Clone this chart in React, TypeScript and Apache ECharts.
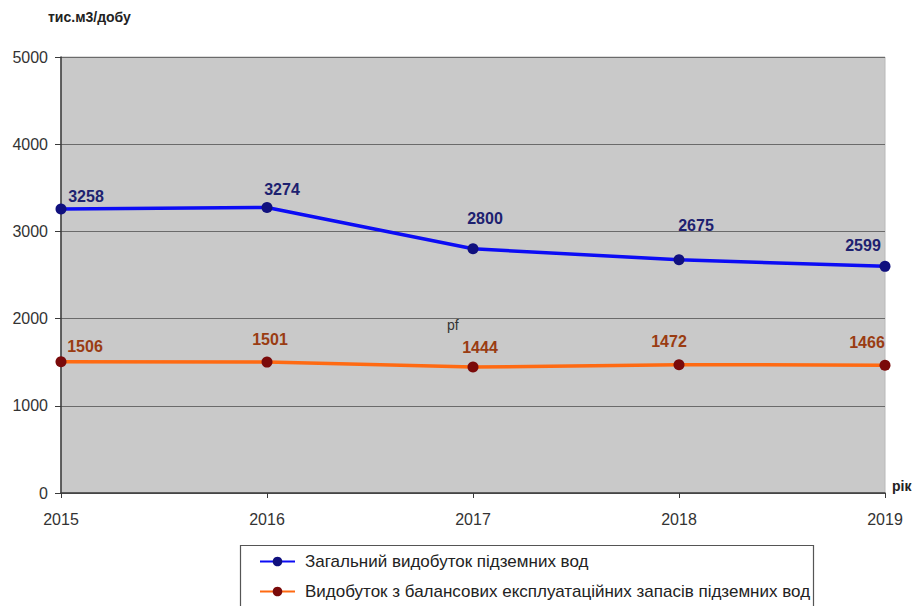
import React, { useEffect, useRef } from "react";
import * as echarts from "echarts";

const years = ["2015", "2016", "2017", "2018", "2019"];
const totalExtraction = [3258, 3274, 2800, 2675, 2599];
const balanceExtraction = [1506, 1501, 1444, 1472, 1466];
const seriesNames = [
  "Загальний видобуток підземних вод",
  "Видобуток з балансових експлуатаційних запасів підземних вод",
];
const yTicks = { min: 0, max: 5000, interval: 1000 };

// label layout offsets (presentation only)
const totalLabelOffsets = [[25, 1], [15, -5], [12, -17], [17, -21], [-22, -7]];
const balanceLabelOffsets = [[24, -2], [3, -9], [7, -6], [-10, -10], [-18, -9]];

export default function App() {
  const ref = useRef<HTMLDivElement>(null);
  useEffect(() => {
    const chart = echarts.init(ref.current!, null, { renderer: "svg" });
    const font = "Liberation Sans, Arial, sans-serif";
    const legendBase = {
      show: true,
      left: 259,
      itemWidth: 35,
      itemHeight: 12,
      padding: 0,
      textStyle: {
        fontSize: 17,
        color: "#222",
        fontFamily: font,
        padding: [0, 0, 0, 5],
      },
    };
    chart.setOption({
      animation: false,
      backgroundColor: "#ffffff",
      textStyle: { fontFamily: font },
      grid: {
        left: 61,
        right: 31,
        top: 57,
        bottom: 113,
        show: true,
        backgroundColor: "#c9c9c9",
        borderColor: "#b8b8b8",
        borderWidth: 1,
      },
      xAxis: {
        type: "category",
        data: years,
        boundaryGap: false,
        axisLine: { lineStyle: { color: "#3a3a3a", width: 1.5 } },
        axisTick: { show: true, length: 5, lineStyle: { color: "#3a3a3a" } },
        axisLabel: { color: "#333", fontSize: 16, margin: 18, fontFamily: font },
        splitLine: { show: false },
      },
      yAxis: {
        type: "value",
        min: yTicks.min,
        max: yTicks.max,
        interval: yTicks.interval,
        axisLine: { show: true, lineStyle: { color: "#3a3a3a", width: 1.5 } },
        axisTick: { show: true, length: 6, lineStyle: { color: "#3a3a3a" } },
        axisLabel: {
          color: "#333",
          fontSize: 16,
          margin: 13,
          fontFamily: font,
          formatter: (v: number) => String(v),
        },
        splitLine: { show: true, lineStyle: { color: "#6a6a6a", width: 1 } },
      },
      legend: [
        { ...legendBase, top: 553, data: [seriesNames[0]] },
        { ...legendBase, top: 583, data: [seriesNames[1]] },
      ],
      graphic: [
        {
          type: "rect",
          shape: { x: 240.5, y: 545.5, width: 573, height: 80 },
          style: { fill: "none", stroke: "#555", lineWidth: 1.2 },
          z: -1,
        },
        {
          type: "text",
          left: 48,
          top: 10,
          style: { text: "тис.м3/добу", font: "bold 14px " + font, fill: "#222" },
        },
        {
          type: "text",
          left: 892,
          top: 479,
          style: { text: "рік", font: "bold 14px " + font, fill: "#222" },
        },
        {
          type: "text",
          left: 447,
          top: 318,
          style: { text: "pf", font: "14px " + font, fill: "#333" },
        },
      ],
      series: [
        {
          name: seriesNames[0],
          type: "line",
          data: totalExtraction.map((v, i) => ({
            value: v,
            label: { offset: totalLabelOffsets[i] },
          })),
          symbol: "circle",
          symbolSize: 11,
          lineStyle: { color: "#0c0cf5", width: 3.5 },
          itemStyle: { color: "#10107e" },
          label: {
            show: true,
            position: "top",
            distance: 0,
            fontSize: 16,
            fontWeight: "bold",
            color: "#1d2170",
            fontFamily: font,
          },
          z: 3,
        },
        {
          name: seriesNames[1],
          type: "line",
          data: balanceExtraction.map((v, i) => ({
            value: v,
            label: { offset: balanceLabelOffsets[i] },
          })),
          symbol: "circle",
          symbolSize: 11,
          lineStyle: { color: "#ff6a12", width: 3.5 },
          itemStyle: { color: "#7a0a0a" },
          label: {
            show: true,
            position: "top",
            distance: 0,
            fontSize: 16,
            fontWeight: "bold",
            color: "#9a3c12",
            fontFamily: font,
          },
          z: 3,
        },
      ],
    });
    return () => chart.dispose();
  }, []);
  return (
    <div
      ref={ref}
      style={{ position: "fixed", left: 0, top: 0, width: 916, height: 606 }}
    />
  );
}
